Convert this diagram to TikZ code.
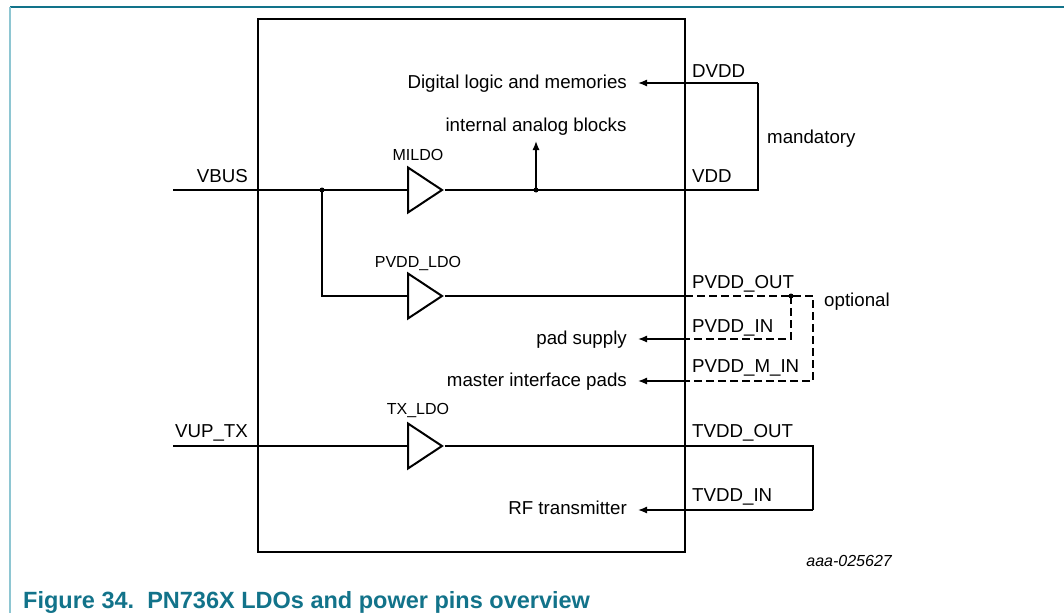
\documentclass[tikz,border=0pt]{standalone}
\usepackage{fontspec}
\setmainfont{Liberation Sans}
\usetikzlibrary{shapes.geometric,arrows.meta}
\definecolor{capteal}{HTML}{12738A}
\definecolor{framelight}{HTML}{8EC6D2}
\begin{document}
\begin{tikzpicture}[x=1pt,y=-1pt,
	wire/.style={line width=1.3pt},
	feed/.style={line width=1.3pt,-{Latex[length=9pt,width=7pt]}},
	optwire/.style={line width=1.3pt,dash pattern=on 8pt off 4pt},
	ldo/.style={isosceles triangle,isosceles triangle stretches,draw,line width=2pt,minimum width=45pt,minimum height=34pt,inner sep=0pt,anchor=west},
	lbl/.style={inner sep=0pt,font=\fontsize{18.7}{22}\selectfont},
	tag/.style={inner sep=0pt,font=\fontsize{16}{19}\selectfont,anchor=base}]
	\useasboundingbox (0,0) rectangle (1064,613);
	% figure frame
	\draw[capteal, line width=2pt] (10,7) -- (1064,7);
	\draw[framelight, line width=2pt] (10,7) -- (10,613);

	% chip outline
	\node (chip) [draw, line width=2.5pt, minimum width=427pt, minimum height=533pt, inner sep=0pt] at (471.5,285.5) {};

	% regulators
	\node (mildo) [ldo] at (407,190) {};
	\node (pvddldo) [ldo] at (407,296) {};
	\node (txldo) [ldo] at (407,446) {};
	\node (mildotag) [tag] at (418,160) {MILDO};
	\node (pvddtag) [tag] at (418,267) {PVDD\_LDO};
	\node (txtag) [tag] at (418,414) {TX\_LDO};

	% pins and wire corners
	\coordinate (vbus) at (173,190);
	\coordinate (split) at (322,190);
	\coordinate (ana) at (536,190);
	\coordinate (anatip) at (536,141);
	\coordinate (vdd) at (758,190);
	\coordinate (dvdd) at (758,83);
	\coordinate (digtip) at (638,83);
	\coordinate (pvddedge) at (685,296);
	\coordinate (pvdddot) at (791,296);
	\coordinate (optcorner) at (813,296);
	\coordinate (pvddin) at (791,339);
	\coordinate (padedge) at (685,339);
	\coordinate (padtip) at (638,339);
	\coordinate (mastin) at (813,381);
	\coordinate (mastedge) at (685,381);
	\coordinate (masttip) at (638,381);
	\coordinate (vuptx) at (173,446);
	\coordinate (tvddout) at (813,446);
	\coordinate (tvddin) at (813,510);
	\coordinate (rftip) at (638,510);

	% VBUS branch
	\draw[wire] (vbus) -- (mildo.west);
	\draw[wire] (split) |- (pvddldo.west);
	\draw[wire] (mildo.east) -- (vdd) -- (dvdd);
	\draw[feed] (dvdd) -- (digtip);
	\draw[feed] (ana) -- (anatip);
	\fill (split) circle (2.5pt);
	\fill (ana) circle (2.5pt);

	% PVDD branch
	\draw[wire] (pvddldo.east) -- (pvddedge);
	\draw[optwire] (pvddedge) -- (optcorner) -- (mastin) -- (mastedge);
	\draw[optwire] (pvdddot) -- (pvddin) -- (padedge);
	\draw[feed] (padedge) -- (padtip);
	\draw[feed] (mastedge) -- (masttip);
	\fill (pvdddot) circle (2.5pt);

	% TX branch
	\draw[wire] (vuptx) -- (txldo.west);
	\draw[wire] (txldo.east) -- (tvddout) -- (tvddin);
	\draw[feed] (tvddin) -- (rftip);

	% pin names
	\node (vbuslbl) [lbl, anchor=base east] at (248,182) {VBUS};
	\node (vuplbl) [lbl, anchor=base east] at (248,437) {VUP\_TX};
	\node (dvddlbl) [lbl, anchor=base west] at (692,77) {DVDD};
	\node (vddlbl) [lbl, anchor=base west] at (692,182) {VDD};
	\node (pvddoutlbl) [lbl, anchor=base west] at (692,288) {PVDD\_OUT};
	\node (pvddinlbl) [lbl, anchor=base west] at (692,332) {PVDD\_IN};
	\node (pvddminlbl) [lbl, anchor=base west] at (692,372) {PVDD\_M\_IN};
	\node (tvddoutlbl) [lbl, anchor=base west] at (692,437) {TVDD\_OUT};
	\node (tvddinlbl) [lbl, anchor=base west] at (692,501) {TVDD\_IN};
	\node (mandlbl) [lbl, anchor=base west] at (767,143) {mandatory};
	\node (optlbl) [lbl, anchor=base west] at (824,306) {optional};

	% internal loads
	\node (digital) [lbl, anchor=base east] at (627,88) {Digital logic and memories};
	\node (analog) [lbl, anchor=base] at (536,131) {internal analog blocks};
	\node (pads) [lbl, anchor=base east] at (627,344) {pad supply};
	\node (master) [lbl, anchor=base east] at (627,386) {master interface pads};
	\node (rf) [lbl, anchor=base east] at (627,514) {RF transmitter};

	\node (docid) [inner sep=0pt, anchor=base east, font=\fontsize{16}{19}\selectfont\itshape] at (892,566) {aaa-025627};
	\node (caption) [inner sep=0pt, anchor=base west, text=capteal, font=\fontsize{23.5}{28}\selectfont\bfseries] at (23,608) {Figure 34.\ \ PN736X LDOs and power pins overview};
\end{tikzpicture}
\end{document}
